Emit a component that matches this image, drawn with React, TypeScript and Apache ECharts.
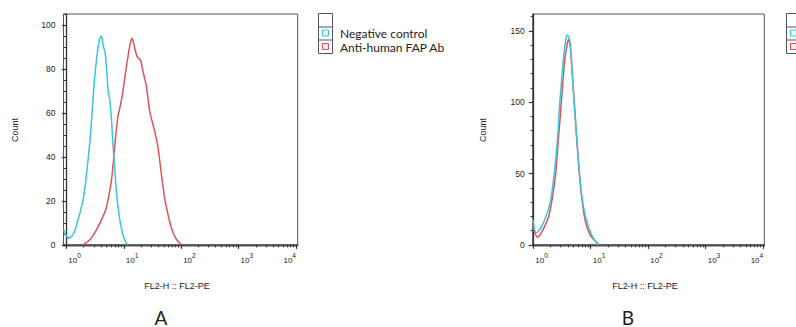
import React, { useEffect, useRef } from "react";
import * as echarts from "echarts";

// Panel A — Negative control (log10 of FL2-PE intensity, count)
const negA_log = [-0.05, -0.01, 0.047, 0.129, 0.204, 0.291, 0.338, 0.378, 0.413, 0.448, 0.483, 0.524, 0.564, 0.605, 0.622, 0.639, 0.669, 0.686, 0.709, 0.726, 0.756, 0.786, 0.808, 0.831, 0.873, 0.918, 0.956, 0.988, 1.036, 1.078];
const negA_count = [7, 4.5, 3, 5.3, 11.4, 20.5, 29, 38.6, 48, 60, 73, 84, 91.7, 95, 94, 91, 88, 85, 77, 70.5, 66, 57, 47, 38.6, 24, 13.6, 8, 4.5, 1.2, 0];
// Panel A — Anti-human FAP Ab
const posA_log = [0.291, 0.408, 0.524, 0.611, 0.686, 0.726, 0.786, 0.826, 0.861, 0.901, 0.93, 0.974, 1.017, 1.075, 1.117, 1.145, 1.169, 1.192, 1.232, 1.291, 1.336, 1.395, 1.453, 1.54, 1.598, 1.657, 1.714, 1.772, 1.831, 1.906, 2.005];
const posA_count = [0, 2.3, 6.8, 11.4, 16, 20.5, 29.5, 40, 50, 59, 62, 68, 75.8, 86, 92, 94, 92, 89.4, 85.6, 84, 78.8, 72, 60.6, 51.5, 44, 31.8, 21, 13.6, 7.6, 3, 0];

// Panel B — Negative control
const negB_log = [-0.01, 0.052, 0.146, 0.261, 0.321, 0.378, 0.425, 0.46, 0.495, 0.523, 0.552, 0.587, 0.627, 0.657, 0.686, 0.726, 0.767, 0.814, 0.871, 0.958, 1.045, 1.132];
const negB_count = [18, 8.4, 12.8, 24.5, 36, 55, 76, 99, 115.6, 129.7, 140, 147, 145, 134, 115.6, 92, 69, 45.6, 27, 12.8, 4.7, 0];
// Panel B — Anti-human FAP Ab
const posB_log = [-0.01, 0.07, 0.146, 0.261, 0.326, 0.39, 0.436, 0.483, 0.517, 0.552, 0.587, 0.61, 0.639, 0.674, 0.709, 0.749, 0.796, 0.848, 0.909, 0.988, 1.075, 1.145];
const posB_count = [13, 5.4, 9, 19, 31.5, 50, 73.6, 97, 115.6, 131, 140, 143.7, 141, 122.7, 101.6, 78.5, 52.6, 31.5, 16, 7, 2.8, 0];

const seriesNames = ["Negative control", "Anti-human FAP Ab"];
const xMajor = [0, 1, 2, 3, 4];
const yMajorA = [0, 20, 40, 60, 80, 100];
const yMinorA = [5, 10, 15, 25, 30, 35, 45, 50, 55, 65, 70, 75, 85, 90, 95, 105];
const yMajorB = [0, 50, 100, 150];
const yMinorB = [10, 20, 30, 40, 60, 70, 80, 90, 110, 120, 130, 140, 160];
const xAxisName = "FL2-H :: FL2-PE";
const yAxisName = "Count";
const panelLetters = ["A", "B"];

const CYAN = "#3cc4df";
const RED = "#e0525a";
const INK = "#222";

const xMinor: number[] = [];
for (let d = 0; d < 4; d++) for (let k = 2; k <= 9; k++) xMinor.push(d + Math.log10(k));

const zip = (a: number[], b: number[]) => a.map((v, i) => [v, b[i]]);

export default function App() {
  const ref = useRef<HTMLDivElement>(null);
  useEffect(() => {
    if (!ref.current) return;
    const chart = echarts.init(ref.current, undefined, { renderer: "svg" });
    const grids = [
      { left: 63.5, right: 498.3, top: 14, bottom: 81, xmin: -0.05, xmax: 4.03, ymin: -0.5, ymax: 105, yMaj: yMajorA, yMin: yMinorA, nameGap: 44 },
      { left: 532.7, right: 31.7, top: 14, bottom: 81, xmin: -0.01, xmax: 4.02, ymin: -0.8, ymax: 161.8, yMaj: yMajorB, yMin: yMinorB, nameGap: 45.5 },
    ];
    const xAxes: any[] = [];
    const yAxes: any[] = [];
    grids.forEach((g, gi) => {
      xAxes.push({
        type: "value", gridIndex: gi, position: "bottom", min: g.xmin, max: g.xmax,
        name: xAxisName, nameLocation: "middle", nameGap: 35,
        nameTextStyle: { fontFamily: "Liberation Sans", fontSize: 9, color: INK, padding: [0, 7, 0, 0] },
        axisLine: { show: true, lineStyle: { color: "#333", width: 1.5 } },
        axisTick: { show: true, customValues: xMajor, length: 4, lineStyle: { color: "#333", width: 1.2 } },
        axisLabel: {
          customValues: xMajor, margin: 6, align: "left", alignMaxLabel: "right", padding: [0, 0, 0, 2],
          formatter: (v: number) => `{b|10}{s|${Math.round(v)}}`,
          rich: {
            b: { fontFamily: "Liberation Sans", fontSize: 8, color: INK, verticalAlign: "bottom", lineHeight: 12 },
            s: { fontFamily: "Liberation Sans", fontSize: 6.5, color: INK, verticalAlign: "top", lineHeight: 12 },
          },
        },
        splitLine: { show: false },
      });
      xAxes.push({
        type: "value", gridIndex: gi, position: "bottom", offset: 0, min: g.xmin, max: g.xmax,
        axisLine: { show: false },
        axisTick: { show: true, customValues: xMinor, length: 2.5, lineStyle: { color: "#333", width: 1 } },
        axisLabel: { show: false }, splitLine: { show: false },
      });
      yAxes.push({
        type: "value", gridIndex: gi, position: "left", min: g.ymin, max: g.ymax,
        name: yAxisName, nameLocation: "middle", nameGap: g.nameGap, nameRotate: 90,
        nameTextStyle: { fontFamily: "Liberation Sans", fontSize: 9, color: INK },
        axisLine: { show: true, lineStyle: { color: "#333", width: 1.3 } },
        axisTick: { show: true, customValues: g.yMaj, length: 4.5, lineStyle: { color: "#333", width: 1.2 } },
        axisLabel: { customValues: g.yMaj, margin: 8, fontFamily: "Liberation Sans", fontSize: 8.5, color: INK },
        splitLine: { show: false },
      });
      yAxes.push({
        type: "value", gridIndex: gi, position: "left", offset: 0, min: g.ymin, max: g.ymax,
        axisLine: { show: false },
        axisTick: { show: true, customValues: g.yMin, length: 2.7, lineStyle: { color: "#333", width: 1 } },
        axisLabel: { show: false }, splitLine: { show: false },
      });
    });

    const mkSeries = (name: string, data: number[][], color: string, gi: number, z: number) => ({
      type: "line", name, data, xAxisIndex: gi * 2, yAxisIndex: gi * 2,
      showSymbol: false, smooth: 0.25, z,
      lineStyle: { color, width: 1.5 }, itemStyle: { color },
    });

    const legendBox = (x: number) => ({
      type: "group", x, y: 13.5,
      children: [
        { type: "rect", shape: { x: 0, y: 0, width: 14, height: 40 }, style: { fill: "#fff", stroke: "#555", lineWidth: 1 } },
        { type: "line", shape: { x1: 0, y1: 13.5, x2: 14, y2: 13.5 }, style: { stroke: "#555", lineWidth: 1 } },
        { type: "line", shape: { x1: 0, y1: 26.5, x2: 14, y2: 26.5 }, style: { stroke: "#555", lineWidth: 1 } },
        { type: "rect", shape: { x: 4, y: 16.5, width: 6, height: 6 }, style: { fill: "#eef9fc", stroke: CYAN, lineWidth: 1 } },
        { type: "rect", shape: { x: 4, y: 30, width: 6, height: 6 }, style: { fill: "#fdeeee", stroke: RED, lineWidth: 1 } },
      ],
    });

    chart.setOption({
      animation: false,
      backgroundColor: "#fff",
      grid: grids.map((g) => ({ left: g.left, right: g.right, top: g.top, bottom: g.bottom, show: true, borderColor: "#555", borderWidth: 1, backgroundColor: "transparent" })),
      xAxis: xAxes,
      yAxis: yAxes,
      series: [
        mkSeries(seriesNames[1], zip(posA_log, posA_count), RED, 0, 2),
        mkSeries(seriesNames[0], zip(negA_log, negA_count), CYAN, 0, 3),
        mkSeries(seriesNames[1], zip(posB_log, posB_count), RED, 1, 2),
        mkSeries(seriesNames[0], zip(negB_log, negB_count), CYAN, 1, 3),
      ],
      graphic: [
        legendBox(318.5),
        { type: "text", x: 340, y: 33.5, style: { text: seriesNames[0], fontFamily: "Lato", fontSize: 12, fill: INK, verticalAlign: "middle" } },
        { type: "text", x: 340, y: 47.5, style: { text: seriesNames[1], fontFamily: "Lato", fontSize: 12, fill: INK, verticalAlign: "middle" } },
        legendBox(786.5),
        { type: "text", x: 161, y: 317, style: { text: panelLetters[0], fontFamily: "Lato", fontSize: 19, fill: INK, align: "center", verticalAlign: "middle" } },
        { type: "text", x: 628, y: 317, style: { text: panelLetters[1], fontFamily: "Lato", fontSize: 19, fill: INK, align: "center", verticalAlign: "middle" } },
      ],
    });
    return () => chart.dispose();
  }, []);
  return <div ref={ref} style={{ width: 796, height: 327, position: "absolute", left: 0, top: 0 }} />;
}
